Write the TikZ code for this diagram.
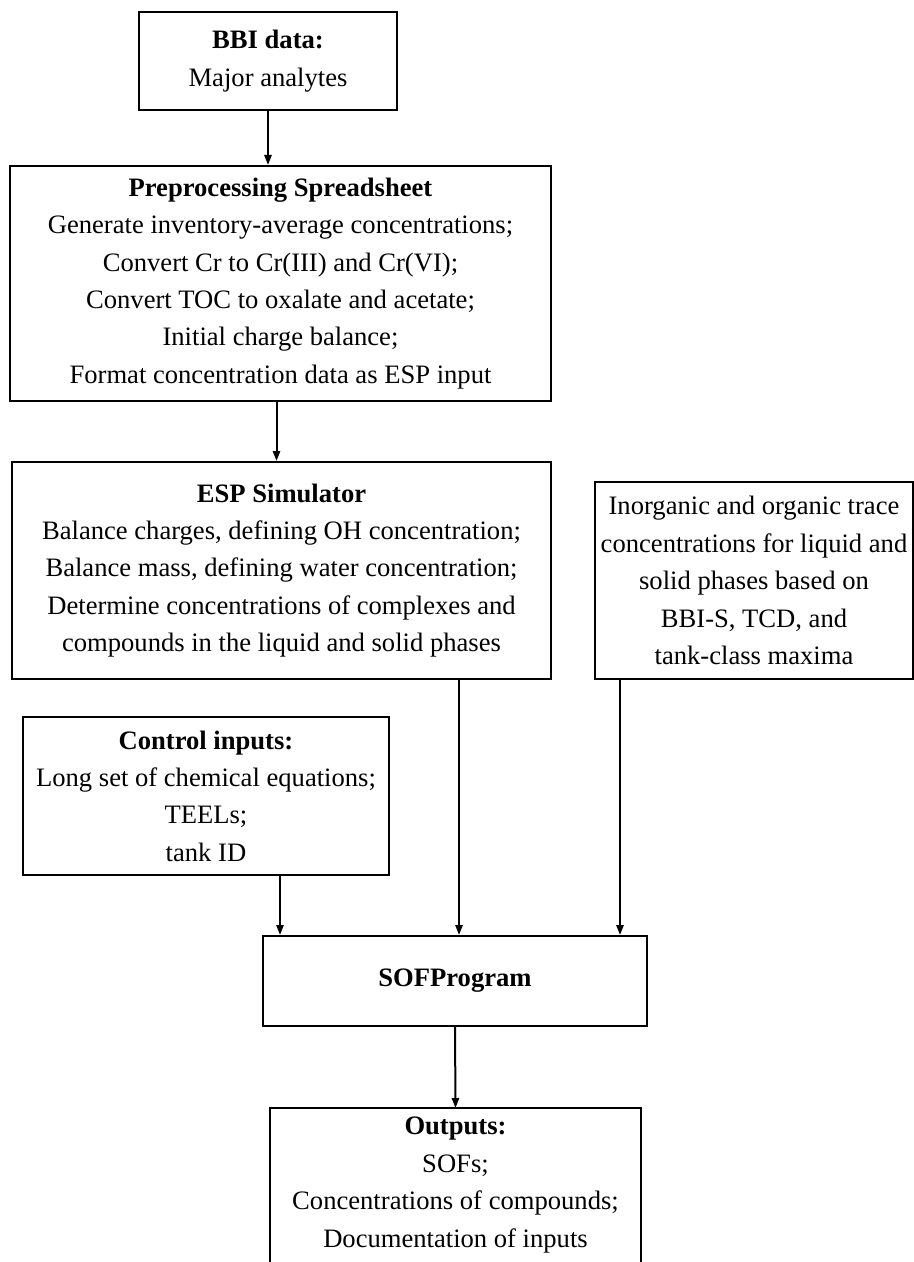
\documentclass[tikz,border=0pt]{standalone}
\usepackage{fontspec}
\setmainfont{Liberation Serif}
\usetikzlibrary{arrows.meta,calc}
\tikzset{
  box/.style={draw, line width=1pt, inner sep=0pt, align=center,
    font=\fontsize{13.3}{18.7}\selectfont},
  arr/.style={line width=1pt, -{Triangle[length=5pt,width=3.6pt]}}
}

\begin{document}
\begin{tikzpicture}[x=0.5pt,y=-0.5pt]
			%%%%% START %%%%%
			\clip (0,0) rectangle (914,1262);
			
			\node[box, minimum width=129pt, minimum height=49pt] (bbi) at (268,61)
				{\textbf{BBI data:}\\Major analytes};
			
			\node[box, minimum width=270.5pt, minimum height=117.5pt] (prep) at (280.5,283.5)
				{\textbf{Preprocessing Spreadsheet}\\
				 Generate inventory-average concentrations;\\
				 Convert Cr to Cr(III) and Cr(VI);\\
				 Convert TOC to oxalate and acetate;\\
				 Initial charge balance;\\
				 Format concentration data as ESP input};
			
			\node[box, minimum width=269.5pt, minimum height=108.5pt] (esp) at (281.5,570.5)
				{\textbf{ESP Simulator}\\
				 Balance charges, defining OH concentration;\\
				 Balance mass, defining water concentration;\\
				 Determine concentrations of complexes and\\
				 compounds in the liquid and solid phases};
			
			\node[box, minimum width=159pt, minimum height=98.5pt] (trace) at (754,580.5)
				{Inorganic and organic trace\\
				 concentrations for liquid and\\
				 solid phases based on\\
				 BBI-S, TCD, and\\
				 tank-class maxima};
			
			\node[box, minimum width=183pt, minimum height=79pt] (ctrl) at (206,796)
				{\textbf{Control inputs:}\\
				 Long set of chemical equations;\\
				 TEELs;\\
				 tank ID};
			
			\node[box, minimum width=192pt, minimum height=45pt] (sof) at (455,981)
				{\textbf{SOFProgram}};
			
			% outputs box runs off the bottom edge
			\node[box, draw=none, minimum width=184.5pt, minimum height=76pt] (out) at (455.5,1185)
				{\textbf{Outputs:}\\
				 SOFs;\\
				 Concentrations of compounds;\\
				 Documentation of inputs};
			\draw[line width=1pt] (out.north west) rectangle ([yshift=-12pt]out.south east);
			
			\draw[arr] (bbi.south) -- (bbi.south |- prep.north);
			\draw[arr] ([xshift=-2pt]prep.south) -- ([xshift=-2pt]prep.south |- esp.north);
			\draw[arr] ([xshift=37pt]ctrl.south) -- ([xshift=37pt]ctrl.south |- sof.north);
			\draw[arr] ([xshift=2pt]sof.north |- esp.south) -- ([xshift=2pt]sof.north);
			\draw[arr] ([xshift=-67pt]trace.south) -- ([xshift=-67pt]trace.south |- sof.north);
			\draw[arr] (sof.south) -- (out.north);
			
			%%%%% END %%%%%
\end{tikzpicture}
\end{document}
